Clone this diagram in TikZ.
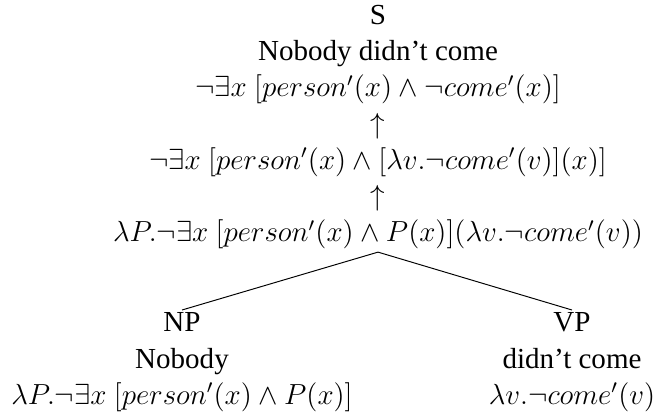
\documentclass[tikz,border=0pt]{standalone}
\usepackage{fontspec}
\setmainfont{Liberation Serif}
\usetikzlibrary{positioning}
\tikzset{
  tree/.style={align=center, inner sep=1pt, font=\fontsize{12}{15}\selectfont},
  branch/.style={line width=0.4pt},
}
\begin{document}
\begin{tikzpicture}[x=0.4132pt, y=-0.4132pt]
  \useasboundingbox (0,0) rectangle (656,418);
  \node[tree, anchor=north] (s) at (378,2)
    {S\\Nobody didn't come\\
     $\neg\exists x\ [person'(x) \wedge \neg come'(x)]$\\
     $\uparrow$\\
     $\neg\exists x\ [person'(x) \wedge [\lambda v.\neg come'(v)](x)]$\\
     $\uparrow$\\
     $\lambda P.\neg\exists x\ [person'(x) \wedge P(x)](\lambda v.\neg come'(v))$};
  \node[tree, anchor=north] (np) at (182,310)
    {NP\\Nobody\\$\lambda P.\neg\exists x\ [person'(x) \wedge P(x)]$};
  \node[tree, anchor=north] (vp) at (572,310)
    {VP\\didn't come\\$\lambda v.\neg come'(v)$};
  \draw[branch] (s.south) -- (np.north);
  \draw[branch] (s.south) -- (vp.north);
\end{tikzpicture}
\end{document}
